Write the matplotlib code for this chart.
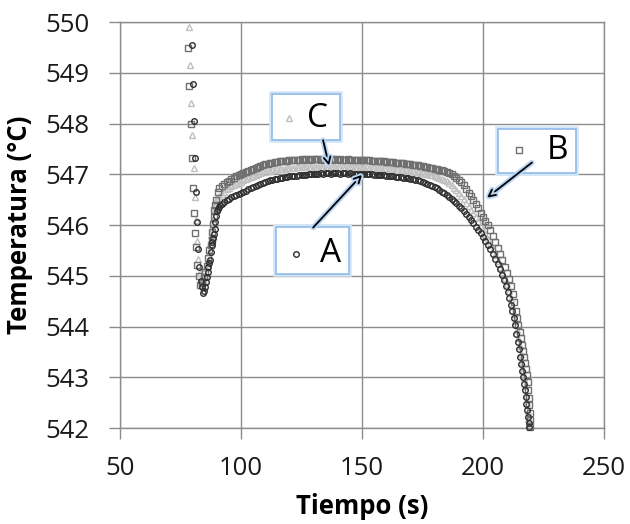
import matplotlib
matplotlib.use("Agg")
import matplotlib.pyplot as plt
import matplotlib.patheffects as pe
from matplotlib.patches import Rectangle

plt.rcParams['font.family'] = ['Open Sans', 'DejaVu Sans']

# shared sample times on the plateau (s)
t_mid = [92, 93, 94, 95, 96, 97, 98, 99, 100, 101,
         102, 103, 104, 105, 106, 107, 108, 109, 110, 111,
         112, 113, 114, 115, 116, 117, 118, 119, 120, 121,
         122, 123, 124, 125, 126, 127, 128, 129, 130, 131,
         132, 133, 134, 135, 136, 137, 138, 139, 140, 141,
         142, 143, 144, 145, 146, 147, 148, 149, 150, 151,
         152, 153, 154, 155, 156, 157, 158, 159, 160, 161,
         162, 163, 164, 165, 166, 167, 168, 169, 170, 171,
         172, 173, 174, 175, 176, 177, 178, 179, 180, 181,
         182, 183, 184, 185]

# ---- serie A (circulos)
a_t_ini = [79.6, 80.0, 80.4, 81.0, 81.4, 81.9, 82.3, 82.8, 83.3, 83.7, 84.1,
           84.6, 85.1, 85.5, 85.8, 86.2, 86.5, 86.9, 87.2, 87.6, 87.9,
           88.2, 88.5, 88.8, 89.1, 89.4, 89.7, 90.1, 90.5, 91.0, 91.5]
a_T_ini = [549.55, 548.78, 548.05, 547.33, 546.65, 546.05, 545.53, 545.17, 544.90, 544.77, 544.66,
           544.70, 544.78, 544.88, 544.97, 545.07, 545.17, 545.25, 545.32, 545.46, 545.60,
           545.67, 545.74, 545.83, 545.92, 546.06, 546.17, 546.27, 546.32, 546.36, 546.39]
a_T_mid = [546.41, 546.45, 546.49, 546.52, 546.55, 546.57, 546.59, 546.61, 546.63, 546.65,
           546.67, 546.70, 546.72, 546.74, 546.76, 546.78, 546.80, 546.82, 546.84, 546.86,
           546.88, 546.89, 546.90, 546.91, 546.92, 546.93, 546.94, 546.95, 546.96, 546.96,
           546.97, 546.97, 546.98, 546.98, 546.99, 546.99, 547.00, 547.00, 547.00, 547.01,
           547.01, 547.02, 547.01, 547.02, 547.02, 547.01, 547.02, 547.02, 547.02, 547.01,
           547.02, 547.02, 547.01, 547.02, 547.01, 547.01, 547.01, 547.01, 547.00, 547.01,
           547.00, 547.00, 547.00, 546.99, 546.99, 546.99, 546.98, 546.98, 546.97, 546.97,
           546.96, 546.96, 546.95, 546.94, 546.94, 546.93, 546.92, 546.92, 546.91, 546.90,
           546.89, 546.88, 546.86, 546.85, 546.83, 546.81, 546.79, 546.77, 546.75, 546.72,
           546.69, 546.66, 546.63, 546.60]
a_t_fin = [186, 187, 188, 189, 190, 191, 192, 193, 194, 195, 196, 197, 198, 199, 200,
           201, 202, 203, 204, 205, 206, 207, 208, 208.8, 209.5, 210.2, 210.9, 211.5,
           212.1, 212.7, 213.3, 213.8, 214.3, 214.8, 215.3, 215.7, 216.1, 216.5, 216.9,
           217.3, 217.6, 217.9, 218.2, 218.5, 218.8, 219.1]
a_T_fin = [546.56, 546.52, 546.47, 546.43, 546.38, 546.33, 546.27, 546.21, 546.15, 546.09,
           546.03, 545.97, 545.91, 545.84, 545.77, 545.69, 545.61, 545.52, 545.43, 545.34,
           545.24, 545.13, 545.02, 544.91, 544.80, 544.68, 544.56, 544.43, 544.30, 544.16,
           544.02, 543.86, 543.70, 543.55, 543.40, 543.26, 543.13, 543.00, 542.87, 542.74,
           542.61, 542.48, 542.35, 542.22, 542.10, 542.01]

# ---- serie B (cuadros)
b_t_ini = [78.2, 78.6, 79.3, 79.8, 80.3, 80.7, 81.0, 81.5, 81.9, 82.5, 83.0,
           83.9, 84.7, 85.3, 85.8, 86.4, 86.9, 87.4, 87.9, 88.2, 88.5, 88.8,
           89.0, 89.3, 89.7, 90.3, 91.0]
b_T_ini = [549.49, 548.73, 548.00, 547.32, 546.73, 546.24, 545.85, 545.56, 545.22, 545.00, 544.82,
           544.86, 544.97, 545.08, 545.20, 545.35, 545.50, 545.60, 545.70, 545.86, 546.02, 546.16,
           546.29, 546.40, 546.50, 546.66, 546.72]
b_T_mid = [546.76, 546.80, 546.84, 546.87, 546.90, 546.93, 546.96, 546.98, 547.01, 547.03,
           547.05, 547.07, 547.09, 547.11, 547.13, 547.15, 547.17, 547.19, 547.20, 547.21,
           547.22, 547.23, 547.24, 547.25, 547.26, 547.26, 547.27, 547.27, 547.28, 547.28,
           547.29, 547.29, 547.29, 547.30, 547.29, 547.30, 547.30, 547.29, 547.30, 547.30,
           547.30, 547.29, 547.30, 547.30, 547.30, 547.29, 547.30, 547.30, 547.29, 547.30,
           547.29, 547.29, 547.30, 547.29, 547.29, 547.29, 547.28, 547.29, 547.28, 547.28,
           547.28, 547.28, 547.27, 547.27, 547.27, 547.26, 547.26, 547.26, 547.25, 547.25,
           547.24, 547.24, 547.23, 547.23, 547.22, 547.22, 547.21, 547.20, 547.20, 547.19,
           547.18, 547.18, 547.17, 547.16, 547.15, 547.14, 547.13, 547.12, 547.11, 547.10,
           547.09, 547.08, 547.06, 547.05]
b_t_fin = [186, 187, 188, 189, 190, 191, 192, 193, 194, 195, 196, 197, 198, 199, 200,
           201, 202, 203, 204, 205, 206, 207, 208, 209, 210, 210.8, 211.6, 212.4, 213.0,
           213.6, 214.1, 214.6, 215.1, 215.6, 216.0, 216.4, 216.9, 217.4, 217.8, 218.1,
           218.4, 218.6, 218.8, 219.0, 219.2, 219.3, 219.4]
b_T_fin = [547.03, 547.00, 546.97, 546.93, 546.89, 546.84, 546.78, 546.71, 546.64, 546.57,
           546.49, 546.41, 546.33, 546.24, 546.16, 546.08, 546.00, 545.90, 545.79, 545.67,
           545.55, 545.43, 545.31, 545.18, 545.05, 544.94, 544.80, 544.65, 544.48, 544.31,
           544.16, 544.02, 543.90, 543.78, 543.64, 543.52, 543.40, 543.28, 543.16, 543.05,
           542.90, 542.75, 542.60, 542.45, 542.30, 542.15, 542.02]

# ---- serie C (triangulos)
c_t_ini = [78.5, 78.9, 79.5, 79.9, 80.6, 80.9, 81.5, 81.9, 82.4, 82.9, 83.3, 83.9,
           84.5, 85.1, 85.7, 86.2, 86.7, 87.2, 87.7, 88.1, 88.5, 88.9, 89.3, 89.7,
           90.2, 91.0]
c_T_ini = [549.90, 549.15, 548.41, 547.77, 547.12, 546.55, 546.09, 545.69, 545.33, 545.05, 544.88, 544.82,
           544.90, 545.02, 545.16, 545.31, 545.47, 545.62, 545.80, 545.95, 546.12, 546.27, 546.38, 546.46,
           546.53, 546.58]
c_T_mid = [546.62, 546.66, 546.70, 546.73, 546.76, 546.78, 546.81, 546.83, 546.85, 546.88,
           546.90, 546.92, 546.94, 546.96, 546.98, 547.00, 547.02, 547.04, 547.05, 547.06,
           547.07, 547.08, 547.09, 547.10, 547.10, 547.11, 547.11, 547.12, 547.12, 547.13,
           547.13, 547.14, 547.14, 547.14, 547.15, 547.14, 547.15, 547.15, 547.14, 547.15,
           547.15, 547.15, 547.14, 547.15, 547.15, 547.15, 547.14, 547.15, 547.15, 547.14,
           547.15, 547.14, 547.14, 547.15, 547.14, 547.14, 547.14, 547.14, 547.14, 547.14,
           547.14, 547.13, 547.13, 547.13, 547.13, 547.13, 547.12, 547.12, 547.12, 547.11,
           547.11, 547.11, 547.10, 547.10, 547.09, 547.09, 547.08, 547.07, 547.07, 547.06,
           547.05, 547.04, 547.03, 547.02, 547.01, 547.00, 546.99, 546.98, 546.96, 546.95,
           546.93, 546.91, 546.89, 546.86]
c_t_fin = [186, 187, 188, 189, 190, 191, 192, 193, 194, 195, 196, 197, 198, 199, 200,
           201, 202, 203, 204, 205, 206, 207, 208, 209, 209.8, 210.6, 211.4, 212.1, 212.8,
           213.4, 214.0, 214.6, 215.1, 215.6, 216.1, 216.6, 217.0, 217.4, 217.8, 218.1,
           218.4, 218.7, 219.0]
c_T_fin = [546.82, 546.78, 546.73, 546.68, 546.63, 546.57, 546.51, 546.44, 546.37, 546.30,
           546.23, 546.15, 546.08, 545.99, 545.91, 545.82, 545.72, 545.62, 545.52, 545.41,
           545.30, 545.18, 545.07, 544.95, 544.83, 544.70, 544.55, 544.40, 544.25, 544.10,
           543.94, 543.78, 543.62, 543.46, 543.30, 543.14, 542.98, 542.82, 542.66, 542.50,
           542.33, 542.18, 542.03]

a_t = a_t_ini + t_mid + a_t_fin
a_T = a_T_ini + a_T_mid + a_T_fin
b_t = b_t_ini + t_mid + b_t_fin
b_T = b_T_ini + b_T_mid + b_T_fin
c_t = c_t_ini + t_mid + c_t_fin
c_T = c_T_ini + c_T_mid + c_T_fin

col_a = '#2e2e2e'
col_b = '#707070'
col_c = '#c0c0c0'
grid_col = '#8c8c8c'

fig = plt.figure(figsize=(6.3, 5.24), dpi=100)
ax = fig.add_axes([0.1905, 0.1832, 0.7683, 0.7748])

ax.plot(c_t, c_T, linestyle='none', marker='^', ms=4.8, mfc='none', mec=col_c, mew=1.0, clip_on=False, zorder=3)
ax.plot(b_t, b_T, linestyle='none', marker='s', ms=4.4, mfc='none', mec=col_b, mew=1.0, clip_on=False, zorder=4)
ax.plot(a_t, a_T, linestyle='none', marker='o', ms=4.0, mfc='none', mec=col_a, mew=1.0, clip_on=False, zorder=5)

ax.set_xlim(50, 250)
ax.set_ylim(542, 550)
ax.set_xticks([50, 100, 150, 200, 250])
ax.set_yticks([542, 543, 544, 545, 546, 547, 548, 549, 550])
ax.grid(True, color=grid_col, linewidth=1.0)
ax.set_axisbelow(True)
for s in ax.spines.values():
    s.set_color(grid_col)
    s.set_linewidth(1.0)
ax.tick_params(direction='out', length=8, width=1.0, color=grid_col, labelsize=18.5, labelcolor='#1a1a1a')
ax.tick_params(axis='y', pad=14)
ax.tick_params(axis='x', pad=12)

ax.set_xlabel('Tiempo (s)', fontsize=18.5, fontweight='bold')
ax.set_ylabel('Temperatura (°C)', fontsize=18.5, fontweight='bold')
ax.xaxis.set_label_coords(0.5, -0.16)
ax.yaxis.set_label_coords(-0.18, 0.5)

glow = [pe.Stroke(linewidth=4, foreground='#d3e6f8'), pe.Normal()]

# cuadros de etiqueta
boxes = [
    # (x0, y0, x1, y1, marker, color, ms, text, mx, tx, ty)
    (112.8, 547.67, 140.9, 548.59, '^', col_c, 4.8, 'C', 119.8, 131.8, 548.10),
    (206.2, 547.02, 238.4, 547.90, 's', col_b, 4.4, 'B', 214.9, 230.6, 547.47),
    (114.5, 545.04, 144.6, 545.97, 'o', col_a, 4.0, 'A', 122.7, 136.8, 545.43),
]
for x0, y0, x1, y1, mk, mc, ms, lab, mx, tx, ty in boxes:
    r = Rectangle((x0, y0), x1 - x0, y1 - y0, facecolor='white', edgecolor='#8fbbe8',
                  linewidth=1.2, zorder=8, path_effects=glow)
    ax.add_patch(r)
    ax.plot([mx], [ty], marker=mk, ms=ms, mfc='none', mec=mc, mew=1.0, zorder=9)
    ax.text(tx, ty, lab, fontsize=24, ha='center', va='center', color='black', zorder=9)

arrows = [
    ((136.4, 547.17), (133.9, 547.67)),
    ((150.0, 546.99), (129.8, 545.95)),
    ((201.7, 546.54), (220.2, 547.23)),
]
for tip, tail in arrows:
    ax.annotate('', xy=tip, xytext=tail, zorder=10,
                arrowprops=dict(arrowstyle='->', color='black', lw=1.3,
                                shrinkA=0, shrinkB=0, mutation_scale=12,
                                path_effects=[pe.Stroke(linewidth=4, foreground='#b9d6f3'), pe.Normal()]))

fig.savefig('out.png', dpi=100)
